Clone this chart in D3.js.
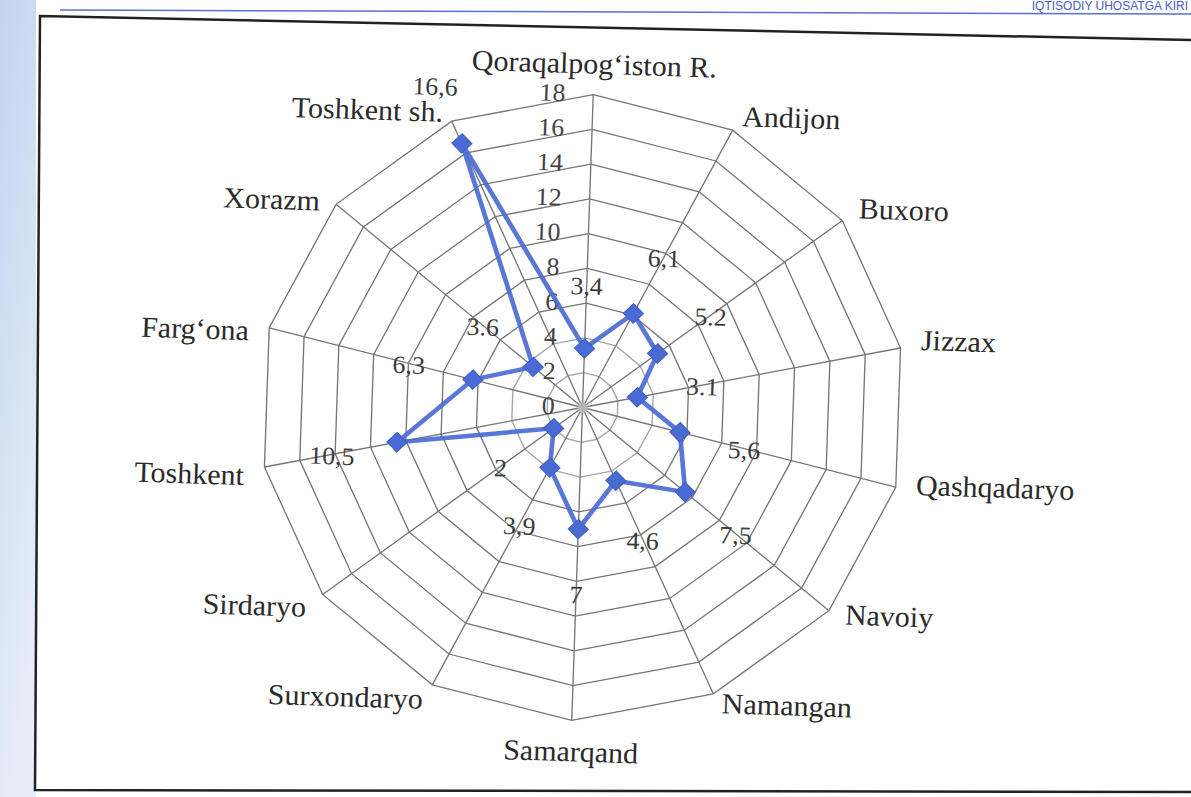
<!DOCTYPE html>
<html>
<head>
<meta charset="utf-8">
<script src="https://cdn.jsdelivr.net/npm/d3@7"></script>
<style>
    body { margin: 0; background: #fff; }
    text { font-family: "Liberation Serif", "DejaVu Serif", serif; }
</style>
</head>
<body>
<div id="vis"></div>
<script>
// Regions, clockwise from the top
var regions = ['Qoraqalpog\u02BBiston R.', 'Andijon', 'Buxoro', 'Jizzax', 'Qashqadaryo', 'Navoiy',
    'Namangan', 'Samarqand', 'Surxondaryo', 'Sirdaryo', 'Toshkent', 'Farg\u02BBona', 'Xorazm', 'Toshkent sh.'];
var values = [3.4, 6.1, 5.2, 3.1, 5.6, 7.5, 4.6, 7, 3.9, 2, 10.5, 6.3, 3.6, 16.6];
var valueLabels = ['3,4', '6,1', '5.2', '3.1', '5,6', '7,5', '4,6', '7', '3,9', '2', '10,5', '6,3', '3.6', '16,6'];
var rTicks = [0, 2, 4, 6, 8, 10, 12, 14, 16, 18];

var width = 1191, height = 797;
var cx = 582.5, cy = 407.5, R = 313, tilt = 1.9;

var svg = d3.select('#vis').append('svg')
    .attr('width', width)
    .attr('height', height);

// page edge on the left and the header of the book page
var grad = svg.append('defs').append('linearGradient')
    .attr('id', 'edge').attr('x1', 0).attr('y1', 0).attr('x2', 0.3).attr('y2', 1);
grad.append('stop').attr('offset', 0).attr('stop-color', '#c3d4ef');
grad.append('stop').attr('offset', 1).attr('stop-color', '#e6edf8');
svg.append('rect').attr('x', 0).attr('y', 0).attr('width', 36).attr('height', height)
    .attr('fill', 'url(#edge)');
svg.append('line').attr('x1', 60).attr('y1', 10).attr('x2', 1191).attr('y2', 14)
    .attr('stroke', '#5a6fd0').attr('stroke-width', 1.5);
svg.append('text').attr('x', 1188).attr('y', 10).attr('text-anchor', 'end')
    .attr('fill', '#4a5cc8').style('font-family', 'Liberation Sans, sans-serif')
    .style('font-size', '12px').text('IQTISODIY UHOSATGA KIRI');

// frame
svg.append('path')
    .attr('d', 'M1191,40 L40,16 L35,790 L1191,792')
    .attr('fill', 'none').attr('stroke', '#222').attr('stroke-width', 2.5);

var r = d3.scaleLinear().domain([0, 18]).range([0, R]);
var angle = d3.scalePoint().domain(regions).range([0, 2 * Math.PI * (13 / 14)]);

function pt(name, v) {
    var a = angle(name);
    return [r(v) * Math.sin(a), -r(v) * Math.cos(a)];
}

var g = svg.append('g')
    .attr('transform', 'translate(' + cx + ',' + cy + ') scale(1.035,1) rotate(' + tilt + ')');

// rings
g.selectAll('.ring').data(rTicks.slice(1)).enter().append('path')
    .attr('class', 'ring')
    .attr('d', function(t) {
        return 'M' + regions.map(function(n) { return pt(n, t); }).join('L') + 'Z';
    })
    .attr('fill', 'none')
    .attr('stroke', function(t) { return t <= 4 ? '#a5a5a5' : '#767676'; })
    .attr('stroke-width', 1.3);

// spokes
g.selectAll('.spoke').data(regions).enter().append('line')
    .attr('class', 'spoke')
    .attr('x1', 0).attr('y1', 0)
    .attr('x2', function(n) { return pt(n, 18)[0]; })
    .attr('y2', function(n) { return pt(n, 18)[1]; })
    .attr('stroke', '#767676').attr('stroke-width', 1.3);

g.append('circle').attr('r', 5).attr('fill', '#b5b5b5');

// tick labels along the first axis
g.selectAll('.tick').data(rTicks).enter().append('text')
    .attr('class', 'tick')
    .attr('x', -27)
    .attr('y', function(t) { return -r(t); })
    .attr('dy', '0.3em')
    .attr('text-anchor', 'end')
    .attr('fill', '#444')
    .style('font-size', '25px')
    .text(function(t) { return t; });

// category labels (small shift to follow the slight skew of the photographed page)
g.selectAll('.cat').data(regions).enter().append('text')
    .attr('class', 'cat')
    .each(function(n) {
        var a = angle(n), s = Math.sin(a), c = Math.cos(a);
        var anchor = s > 0.2 ? 'start' : (s < -0.2 ? 'end' : 'middle');
        var dy = 10;
        if (c > 0.95) dy = -8;
        else if (c < -0.95) dy = 28;
        dy += -6 * s + 7 * c;
        d3.select(this)
            .attr('x', (R + 20) * s)
            .attr('y', -(R + 20) * c + dy)
            .attr('text-anchor', anchor);
    })
    .attr('fill', '#2a2a2a')
    .style('font-size', '29px')
    .text(function(n) { return n; });

// series line
var line = d3.line().curve(d3.curveLinearClosed);
g.append('path')
    .datum(regions.map(function(n, i) { return pt(n, values[i]); }))
    .attr('d', line)
    .attr('fill', 'none')
    .attr('stroke', '#4a6bd4')
    .attr('stroke-width', 4.5)
    .attr('stroke-linejoin', 'round')
    .attr('opacity', 0.92);

// markers
g.selectAll('.marker').data(regions).enter().append('path')
    .attr('class', 'marker')
    .attr('d', d3.symbol().type(d3.symbolSquare).size(190))
    .attr('transform', function(n, i) {
        var p = pt(n, values[i]);
        return 'translate(' + p[0] + ',' + p[1] + ') rotate(45)';
    })
    .attr('fill', '#4a6bd4')
    .attr('stroke', '#3d5cc4')
    .attr('stroke-width', 1);

// value labels, pushed outward along each axis
g.selectAll('.val').data(regions).enter().append('text')
    .attr('class', 'val')
    .attr('x', function(n, i) { return (r(values[i]) + 64) * Math.sin(angle(n)); })
    .attr('y', function(n, i) { return -(r(values[i]) + 64) * Math.cos(angle(n)); })
    .attr('dy', '0.4em')
    .attr('text-anchor', 'middle')
    .attr('fill', '#3a3a3a')
    .style('font-size', '25px')
    .text(function(n, i) { return valueLabels[i]; });
</script>
</body>
</html>
